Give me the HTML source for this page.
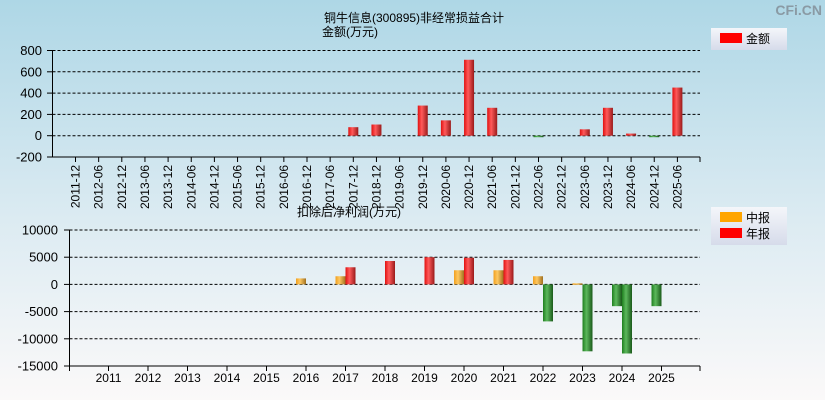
<!DOCTYPE html>
<html><head><meta charset="utf-8">
<style>
html,body{margin:0;padding:0;}
body{width:825px;height:400px;overflow:hidden;font-family:"Liberation Sans","Noto Sans CJK SC",sans-serif;}
svg text{font-family:"Liberation Sans","Noto Sans CJK SC",sans-serif;}
</style></head>
<body>
<svg id="c" width="825" height="400" xmlns="http://www.w3.org/2000/svg">
<defs>
<linearGradient id="bg" x1="0" y1="0" x2="0" y2="1">
<stop offset="0" stop-color="#aed7e6"/><stop offset="0.55" stop-color="#dcebf2"/><stop offset="1" stop-color="#fbf9f9"/></linearGradient>
<linearGradient id="gr" x1="0" x2="1"><stop offset="0" stop-color="#e01010"/><stop offset="0.4" stop-color="#ff5a5a"/><stop offset="1" stop-color="#9a1a1a"/></linearGradient>
<linearGradient id="gg" x1="0" x2="1"><stop offset="0" stop-color="#1f7f1f"/><stop offset="0.4" stop-color="#5cb85c"/><stop offset="1" stop-color="#1a5a1a"/></linearGradient>
<linearGradient id="go" x1="0" x2="1"><stop offset="0" stop-color="#f0a020"/><stop offset="0.4" stop-color="#ffc860"/><stop offset="1" stop-color="#a07020"/></linearGradient>
<linearGradient id="lg" x1="0" y1="0" x2="0" y2="1"><stop offset="0" stop-color="#f4f6fa"/><stop offset="1" stop-color="#d6dbea"/></linearGradient>
</defs>
<rect width="825" height="400" fill="url(#bg)"/>
<text x="822" y="15" text-anchor="end" font-size="14" font-weight="bold" fill="#8a9aa4">CFi.CN</text>
<text x="324" y="22" font-size="12" fill="#000">铜牛信息(300895)非经常损益合计</text>
<text x="322" y="36" font-size="12" fill="#000">金额(万元)</text>
<text x="297" y="216" font-size="12" fill="#000">扣除后净利润(万元)</text>
<g>
<rect x="711" y="28" width="76" height="22" fill="url(#lg)"/>
<rect x="720" y="33" width="22" height="10" fill="#ff0000"/>
<text x="746" y="43" font-size="12">金额</text>
</g>
<g>
<rect x="711" y="207" width="76" height="38" fill="url(#lg)"/>
<rect x="720" y="212" width="22" height="10" fill="#ffa500"/>
<text x="746" y="222" font-size="12">中报</text>
<rect x="720" y="228" width="22" height="10" fill="#ff0000"/>
<text x="746" y="238" font-size="12">年报</text>
</g>
<g id="top"></g>
<g id="bot"></g>
</svg>
<script>
const topCats=["2011-12","2012-06","2012-12","2013-06","2013-12","2014-06","2014-12","2015-06","2015-12","2016-06","2016-12","2017-06","2017-12","2018-12","2019-06","2019-12","2020-06","2020-12","2021-06","2021-12","2022-06","2022-12","2023-06","2023-12","2024-06","2024-12","2025-06"];
const topVals=[0,0,0,0,0,0,0,0,0,0,0,0,80,105,0,283,144,713,262,0,-8,0,60,262,20,-8,452];
const topTicks=[800,600,400,200,0,-200];
const botYears=["2011","2012","2013","2014","2015","2016","2017","2018","2019","2020","2021","2022","2023","2024","2025"];
const botHalf=[0,0,0,0,0,1100,1500,0,0,2600,2600,1500,200,-4000,-4000];
const botAnnual=[0,0,0,0,0,0,3150,4300,5000,4900,4500,-6800,-12300,-12700,0];
const botTicks=[10000,5000,0,-5000,-10000,-15000];
const NS="http://www.w3.org/2000/svg";
function mk(tag,attrs,parent){const e=document.createElementNS(NS,tag);for(const k in attrs)e.setAttribute(k,attrs[k]);parent.appendChild(e);return e;}
// top chart
const T=document.getElementById('top');
const ty=v=>50.5+(800-v)*(106.5/1000);
const tx=i=>75.5+i*23.15;
topTicks.forEach(t=>{
 const y=ty(t);
 const l=mk('line',{x1:52.5,x2:700,y1:y,y2:y,stroke:'#000','stroke-dasharray':'3,2','stroke-width':1},T);
 
 
 mk('line',{x1:47,x2:52.5,y1:y,y2:y,stroke:'#000'},T);
 const tt=mk('text',{x:42,y:y+4.5,'font-size':13,'text-anchor':'end'},T);tt.textContent=t;
 
 
});
mk('line',{x1:52.5,x2:52.5,y1:50,y2:157,stroke:'#000'},T);
mk('line',{x1:52.5,x2:700,y1:157,y2:157,stroke:'#000'},T);
mk('line',{x1:700,x2:700,y1:157,y2:162,stroke:'#000'},T);
topCats.forEach((c,i)=>{
 const x=tx(i);
 mk('line',{x1:x,x2:x,y1:157,y2:162,stroke:'#000'},T);
 const t=mk('text',{x:0,y:0,'font-size':12,'text-anchor':'end',transform:`translate(${x+4},165) rotate(-90)`},T);t.textContent=c;
 
 
 const v=topVals[i];
 if(v!==0){
  const y0=ty(0),y1=ty(v);
  const r=mk('rect',{x:x-5,y:Math.min(y0,y1),width:10,height:Math.max(1.5,Math.abs(y1-y0)),fill:v>0?'url(#gr)':'url(#gg)'},T);
  
  
 }
});
// bottom chart
const B=document.getElementById('bot');
const by=v=>230+(10000-v)*(136/25000);
const bx=i=>108.5+i*39.5;
botTicks.forEach(t=>{
 const y=by(t);
 const l=mk('line',{x1:69.5,x2:700,y1:y,y2:y,stroke:'#000','stroke-dasharray':'3,2'},B);
 
 
 mk('line',{x1:64,x2:69.5,y1:y,y2:y,stroke:'#000'},B);
 const tt=mk('text',{x:58,y:y+4.5,'font-size':13,'text-anchor':'end'},B);tt.textContent=t;
 
 
});
mk('line',{x1:69.5,x2:69.5,y1:230,y2:371,stroke:'#000'},B);
mk('line',{x1:69.5,x2:700,y1:366,y2:366,stroke:'#000'},B);
mk('line',{x1:700,x2:700,y1:366,y2:371,stroke:'#000'},B);
botYears.forEach((yr,i)=>{
 const x=bx(i);
 mk('line',{x1:x,x2:x,y1:366,y2:371,stroke:'#000'},B);
 const t=mk('text',{x:x,y:382,'font-size':12,'text-anchor':'middle'},B);t.textContent=yr;
 
 
 const y0=by(0);
 const h=botHalf[i];
 if(h!==0){const y1=by(h);
  const r=mk('rect',{x:x-10,y:Math.min(y0,y1),width:10,height:Math.max(1.5,Math.abs(y1-y0)),fill:h>0?'url(#go)':'url(#gg)'},B);
  
  
 }
 const a=botAnnual[i];
 if(a!==0){const y1=by(a);
  const r=mk('rect',{x:x,y:Math.min(y0,y1),width:10,height:Math.max(1.5,Math.abs(y1-y0)),fill:a>0?'url(#gr)':'url(#gg)'},B);
  
  
 }
});
</script>
</body></html>
